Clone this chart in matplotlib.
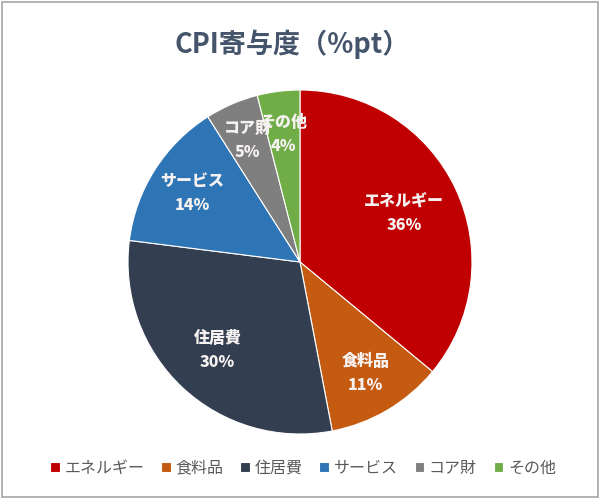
import matplotlib
matplotlib.use("Agg")
import matplotlib.pyplot as plt
import numpy as np
from matplotlib.patches import Rectangle

plt.rcParams['font.family'] = ['Noto Sans CJK JP', 'DejaVu Sans']

categories = ["エネルギー", "食料品", "住居費", "サービス", "コア財", "その他"]
values = [36, 11, 30, 14, 5, 4]
colors = ["#C00000", "#C55A11", "#333F50", "#2E75B6", "#7F7F7F", "#70AD47"]
label_dist = [0.67, 0.75, 0.70, 0.74, 0.77, 0.75]

fig = plt.figure(figsize=(6, 5), dpi=100)
fig.patches.append(Rectangle((0.004, 0.006), 0.992, 0.99, transform=fig.transFigure,
                             fill=False, edgecolor="#A6A6A6", linewidth=1.2))

r_w, r_h = 172 / 600, 172 / 500
cx, cy = 300 / 600, (500 - 262) / 500
ax = fig.add_axes([cx - r_w, cy - r_h, 2 * r_w, 2 * r_h])
wedges, _ = ax.pie(values, colors=colors, startangle=90, counterclock=False,
                   wedgeprops=dict(edgecolor="white", linewidth=0.8))
ax.set_xlim(-1, 1)
ax.set_ylim(-1, 1)
ax.set_aspect('equal')

for w, cat, v, d in zip(wedges, categories, values, label_dist):
    ang = np.deg2rad((w.theta1 + w.theta2) / 2)
    x, y = d * np.cos(ang), d * np.sin(ang)
    ax.text(x, y, f"{cat}\n{v}%", ha="center", va="center", color="#F7F2F2",
            fontsize=11.5, fontweight="heavy", linespacing=1.75)

fig.text(0.487, 0.912, "CPI寄与度（%pt）", ha="center", va="center",
         fontsize=19.5, fontweight="bold", color="#44546A")

leg = fig.legend(wedges, categories, loc="center", bbox_to_anchor=(0.505, 0.064),
                 ncol=6, frameon=False, fontsize=11.5, handlelength=0.6,
                 handleheight=0.6, handletextpad=0.3, columnspacing=1.05)
for t in leg.get_texts():
    t.set_color("#595959")

fig.savefig("out.png", dpi=100)
